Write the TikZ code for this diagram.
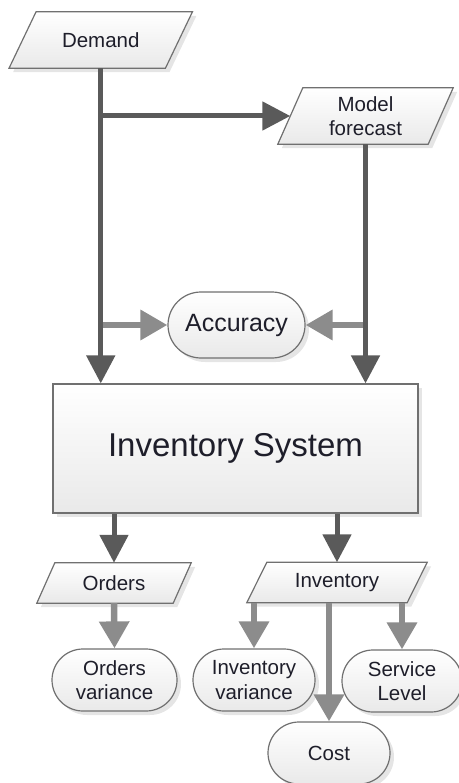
\documentclass[tikz,border=0pt]{standalone}
\usepackage{fontspec}
\setmainfont{Liberation Sans}
\usetikzlibrary{arrows.meta,shadows,backgrounds}

\definecolor{ink}{HTML}{1E1E2A}
\definecolor{edge}{HTML}{707070}
\definecolor{darkflow}{HTML}{5A5A5A}
\definecolor{lightflow}{HTML}{8C8C8C}
\definecolor{paper}{HTML}{E9E9E9}

\tikzset{
  boxshade/.style={top color=white, bottom color=paper, draw=edge, line width=1.2pt,
    drop shadow={shadow xshift=4pt, shadow yshift=-4pt, fill=black, opacity=0.1}},
  lbl/.style={text=ink, font=\fontsize{20.5}{24.5}\selectfont, align=center, inner sep=0pt},
  stadium/.style={lbl, boxshade, rounded corners=31pt},
  paralbl/.style={lbl, draw=none},
  parashape/.style={boxshade},
  sysbox/.style={boxshade, text=ink, font=\fontsize{33}{38}\selectfont, inner sep=0pt},
  flowdark/.style={draw=darkflow, line width=5pt, -{Triangle[length=28pt,width=28pt]}},
  flowlight/.style={draw=lightflow, line width=6.5pt, -{Triangle[length=27pt,width=29pt]}},
}

% parallelogram data node: name, centre, mid-line width, height, half slant, text
\newcommand\paranode[6]{%
  \node[paralbl, minimum width=#3, minimum height=#4] (#1) at (#2) {#6};
  \begin{scope}[on background layer]
    \path[parashape] ([xshift=#5]#1.north west) -- ([xshift=#5]#1.north east)
      -- ([xshift=-#5]#1.south east) -- ([xshift=-#5]#1.south west) -- cycle;
  \end{scope}
}

\begin{document}
\begin{tikzpicture}[x=1pt,y=-1pt]
\useasboundingbox (0,0) rectangle (458,783);

% inputs
\paranode{dem}{100.75,40}{156pt}{56pt}{13.5pt}{Demand}
\paranode{mf}{365.5,116}{150pt}{56pt}{12.5pt}{Model\\forecast}

\node[stadium, font=\fontsize{25}{30}\selectfont, minimum width=137pt,
      minimum height=66pt, rounded corners=33pt] (acc) at (236.5,325) {Accuracy};

\node[sysbox, minimum width=365pt, minimum height=129pt] (sys) at (235.5,448.5)
  {Inventory System};

% outputs
\paranode{ord}{114,583}{136pt}{40pt}{9pt}{Orders}
\paranode{inv}{337,582.5}{160pt}{40pt}{10pt}{Inventory}

\node[stadium, minimum width=125pt, minimum height=62pt] (ov) at (114.5,680) {Orders\\variance};
\node[stadium, minimum width=122pt, minimum height=62pt] (iv) at (254,680) {Inventory\\variance};
\node[stadium, minimum width=120pt, minimum height=62pt] (sl) at (402,681) {Service\\Level};
\node[stadium, minimum width=122pt, minimum height=62pt] (cost) at (329,753) {Cost};

% accuracy comparison
\draw[flowlight] (dem.south |- acc.west) -- (acc.west);
\draw[flowlight] (mf.south |- acc.east) -- (acc.east);

% main flow
\draw[flowdark] (dem.south) -- (dem.south |- sys.north);
\draw[flowdark] (dem.south |- mf.west) -- (mf.west);
\draw[flowdark] (mf.south) -- (mf.south |- sys.north);
\draw[flowdark] (ord.north |- sys.south) -- (ord.north);
\draw[flowdark] (inv.north |- sys.south) -- (inv.north);

% measures
\draw[flowlight] (ord.south) -- (ov.north);
\draw[flowlight] (inv.south -| iv.north) -- (iv.north);
\draw[flowlight] (inv.south -| cost.north) -- (cost.north);
\draw[flowlight] (inv.south -| sl.north) -- (sl.north);
\end{tikzpicture}
\end{document}
